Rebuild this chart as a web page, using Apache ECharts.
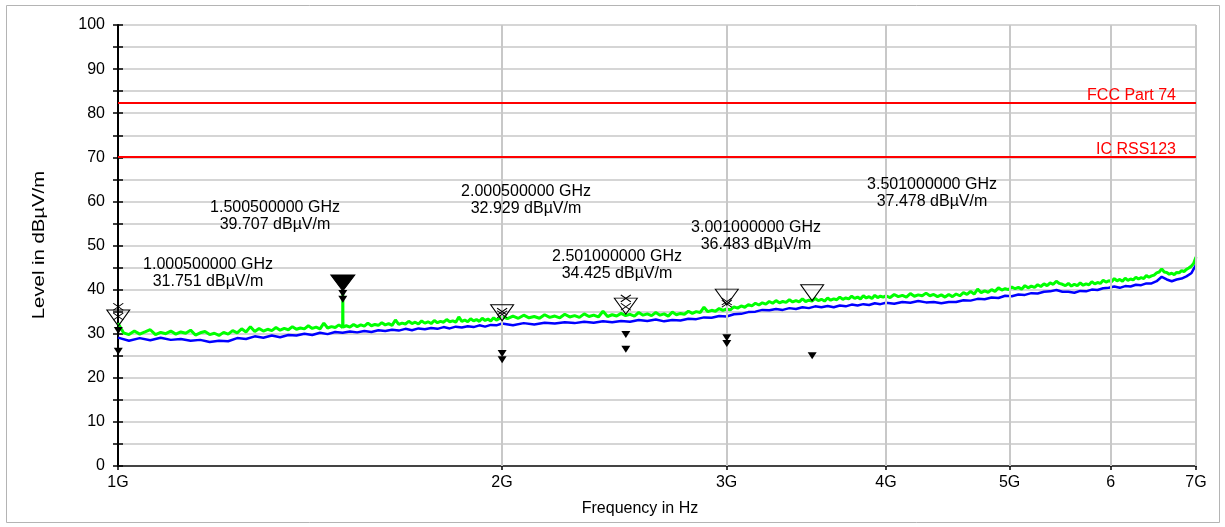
<!DOCTYPE html>
<html>
<head>
<meta charset="utf-8">
<script src="https://cdn.jsdelivr.net/npm/echarts@6/dist/echarts.min.js"></script>
<style>
html,body{margin:0;padding:0;background:#fff;}
#chart{width:1225px;height:527px;}
</style>
</head>
<body>
<div id="chart"></div>
<script>
// ---- data (frequency in GHz, level in dBµV/m) ----
// Peak trace (green)
const peakFreqsGHz = [
1.00,1.01,1.02,1.03,1.04,1.05,1.06,1.07,1.08,1.09,
1.10,1.11,1.12,1.13,1.14,1.15,1.16,1.17,1.18,1.19,
1.20,1.21,1.22,1.23,1.24,1.25,1.26,1.27,1.28,1.29,
1.30,1.31,1.32,1.33,1.34,1.35,1.36,1.37,1.38,1.39,
1.40,1.41,1.42,1.43,1.44,1.45,1.46,1.47,1.48,1.49,
1.50,1.5005,1.501,
1.51,1.52,1.53,1.54,1.55,1.56,1.57,1.58,1.59,
1.60,1.61,1.62,1.63,1.64,1.65,1.66,1.67,1.68,1.69,
1.70,1.71,1.72,1.73,1.74,1.75,1.76,1.77,1.78,1.79,
1.80,1.81,1.82,1.83,1.84,1.85,1.86,1.87,1.88,1.89,
1.90,1.91,1.92,1.93,1.94,1.95,1.96,1.97,1.98,1.99,
2.00,2.02,2.04,2.06,2.08,2.10,2.12,2.14,2.16,2.18,
2.20,2.22,2.24,2.26,2.28,2.30,2.32,2.34,2.36,2.38,
2.40,2.42,2.44,2.46,2.48,2.50,2.52,2.54,2.56,2.58,
2.60,2.62,2.64,2.66,2.68,2.70,2.72,2.74,2.76,2.78,
2.80,2.82,2.84,2.86,2.88,2.90,2.92,2.94,2.96,2.98,
3.00,3.02,3.04,3.06,3.08,3.10,3.12,3.14,3.16,3.18,
3.20,3.22,3.24,3.26,3.28,3.30,3.32,3.34,3.36,3.38,
3.40,3.42,3.44,3.46,3.48,3.50,3.52,3.54,3.56,3.58,
3.60,3.62,3.64,3.66,3.68,3.70,3.72,3.74,3.76,3.78,
3.80,3.82,3.84,3.86,3.88,3.90,3.92,3.94,3.96,3.98,
4.00,4.03,4.06,4.09,4.12,4.15,4.18,4.21,4.24,4.27,
4.30,4.33,4.36,4.39,4.42,4.45,4.48,4.51,4.54,4.57,
4.60,4.63,4.66,4.69,4.72,4.75,4.78,4.81,4.84,4.87,
4.90,4.93,4.96,4.99,5.02,5.05,5.08,5.11,5.14,5.17,
5.20,5.23,5.26,5.29,5.32,5.35,5.38,5.41,5.44,5.47,
5.50,5.53,5.56,5.59,5.62,5.65,5.68,5.71,5.74,5.77,
5.80,5.83,5.86,5.89,5.92,5.95,5.98,6.01,6.04,6.07,
6.10,6.13,6.16,6.19,6.22,6.25,6.28,6.31,6.34,6.37,
6.40,6.43,6.46,6.49,6.52,6.55,6.58,6.61,6.64,6.67,
6.70,6.73,6.76,6.79,6.82,6.85,6.88,6.91,6.94,6.97,
7.00
];
const peakLevel = [
32.4,30.2,29.8,30.6,29.9,30.4,30.9,29.8,30.3,30.0,
30.6,29.9,30.4,30.1,30.8,29.7,30.2,30.5,29.8,30.1,
29.6,30.3,29.9,30.7,30.2,31.1,30.4,31.6,30.5,31.2,
30.6,31.0,30.7,31.4,30.8,31.2,30.9,31.6,31.0,31.3,
31.1,31.8,31.2,31.5,31.1,32.4,31.3,31.6,31.4,32.0,
31.4,39.7,31.5,
31.8,31.5,32.1,31.6,32.0,31.7,32.4,31.8,32.1,
31.9,32.5,32.0,32.3,31.9,33.1,32.1,32.4,32.2,32.8,
32.3,32.6,32.2,32.9,32.4,32.7,32.3,33.0,32.5,32.8,
32.6,33.2,32.7,32.9,32.6,33.8,32.8,33.1,32.7,33.4,
32.9,33.2,32.8,33.5,33.0,33.3,32.9,33.6,33.1,33.4,
33.9,33.4,34.0,33.5,34.2,33.6,33.9,33.5,34.3,33.7,
34.0,33.6,34.4,33.8,34.1,33.7,34.5,33.9,34.2,33.8,
35.1,33.9,34.3,34.0,34.6,34.1,34.4,34.0,34.8,34.2,
34.5,34.1,34.8,34.2,34.5,34.0,34.9,34.3,34.6,34.4,
35.1,34.6,35.0,34.8,36.0,35.0,35.3,35.1,35.7,35.3,
35.6,35.4,36.1,35.8,36.3,36.0,36.6,36.3,36.9,36.5,
37.0,36.7,37.3,36.9,37.5,37.0,37.3,37.1,37.7,37.2,
37.5,37.2,37.9,37.3,37.6,37.4,38.0,37.5,37.8,37.4,
38.1,37.6,37.9,37.7,38.3,37.8,38.1,37.9,38.5,38.0,
38.3,37.9,38.6,38.1,38.4,38.0,38.7,38.2,38.5,38.3,
38.6,38.2,38.9,38.4,38.7,38.3,39.1,38.5,38.8,38.6,
39.2,38.6,38.9,38.4,38.8,38.3,38.9,38.4,39.0,38.6,
39.3,38.9,39.6,39.0,40.1,39.3,39.7,39.4,40.0,39.6,
40.4,39.9,40.2,40.0,40.6,40.2,40.5,40.1,40.9,40.4,
40.8,40.5,41.1,40.7,41.3,40.9,41.5,41.2,41.9,41.4,
41.2,40.9,41.4,40.8,41.2,40.9,41.5,41.0,41.3,41.1,
41.8,41.3,41.6,41.4,42.1,41.7,42.0,41.8,42.5,42.0,
42.3,41.9,42.6,42.1,42.4,42.2,42.8,42.4,42.7,42.5,
43.2,42.8,43.1,43.3,43.8,44.0,44.7,44.0,43.9,43.5,
43.7,43.4,43.9,43.8,44.3,44.1,44.6,44.9,45.3,45.9,
47.4
];
// Average trace (blue)
const avgFreqsGHz = [
1.00,1.02,1.04,1.06,1.08,1.10,1.12,1.14,1.16,1.18,1.20,1.22,1.24,1.26,1.28,1.30,1.32,1.34,1.36,1.38,1.40,1.42,1.44,1.46,1.48,1.50,
1.52,1.54,1.56,1.58,1.60,1.62,1.64,1.66,1.68,1.70,1.72,1.74,1.76,1.78,1.80,1.82,1.84,1.86,1.88,1.90,1.92,1.94,1.96,1.98,
2.00,2.04,2.08,2.12,2.16,2.20,2.24,2.28,2.32,2.36,2.40,2.44,2.48,2.52,2.56,2.60,2.64,2.68,2.72,2.76,2.80,2.84,2.88,2.92,2.96,
3.00,3.04,3.08,3.12,3.16,3.20,3.24,3.28,3.32,3.36,3.40,3.44,3.48,3.52,3.56,3.60,3.64,3.68,3.72,3.76,3.80,3.84,3.88,3.92,3.96,
4.00,4.06,4.12,4.18,4.24,4.30,4.36,4.42,4.48,4.54,4.60,4.66,4.72,4.78,4.84,4.90,4.96,5.02,5.08,5.14,5.20,5.26,5.32,5.38,5.44,
5.50,5.56,5.62,5.68,5.74,5.80,5.86,5.92,5.98,6.04,6.10,6.16,6.22,6.28,6.34,6.40,6.46,6.52,6.58,6.64,6.70,6.76,6.82,6.88,6.94,7.00
];
const avgLevel = [
29.1,28.4,29.0,28.5,29.1,28.6,28.8,28.4,28.6,28.1,28.4,28.3,29.0,28.8,29.4,29.1,29.6,29.2,29.7,29.6,30.0,29.7,30.2,29.9,30.4,30.2,
30.5,30.3,30.6,30.4,30.8,30.6,30.9,30.7,31.1,30.8,31.2,31.0,31.3,31.1,31.5,31.2,31.6,31.4,31.7,31.5,31.9,31.6,32.0,31.9,
32.3,31.9,32.4,32.1,32.5,32.3,32.6,32.4,32.7,32.5,32.8,32.6,32.9,32.7,33.1,32.9,33.2,32.8,33.1,33.0,33.4,33.3,33.7,33.6,34.0,
33.9,34.4,34.5,34.9,35.0,35.4,35.3,35.6,35.4,35.8,35.6,36.0,35.8,36.2,36.0,36.3,36.0,36.4,36.2,36.6,36.4,36.7,36.5,36.9,36.7,
37.0,36.8,37.2,37.0,37.4,37.1,37.2,36.9,37.2,37.2,37.6,37.5,37.9,37.8,38.2,38.1,38.6,38.5,38.9,38.8,39.2,39.1,39.5,39.6,39.9,
39.5,39.5,39.3,39.7,39.6,40.0,39.9,40.3,40.4,40.7,40.4,40.8,40.7,41.1,41.0,41.4,41.4,41.9,42.9,42.3,41.9,42.3,42.5,43.0,43.7,45.6
];
// marker list (peak markers)
const markerFreq  = [1.0005, 1.5005, 2.0005, 2.501, 3.001, 3.501];
const markerLevel = [31.751, 39.707, 32.929, 34.425, 36.483, 37.478];
const markerFilled = [false, true, false, false, false, false];
// final measurement results (small filled triangles)
const finalFreq  = [1.0005, 1.0005, 1.5005, 1.5005, 2.0005, 2.0005, 2.501, 2.501, 3.001, 3.001, 3.501];
const finalLevel = [30.7, 26.0, 39.1, 37.8, 25.5, 24.1, 29.8, 26.5, 29.1, 27.8, 25.0];
// cross markers
const crossFreq  = [1.0005, 1.0005, 2.0005, 2.0005, 2.501, 2.501, 3.001, 3.001];
const crossLevel = [36.1, 33.9, 35.0, 34.4, 38.0, 36.1, 37.3, 36.8];
// limit lines
const limitNames  = ['FCC Part 74', 'IC RSS123'];
const limitLevels = [82.3, 70.1];
// axes
const xTickValues = [1, 2, 3, 4, 5, 6, 7];
const xTickLabels = ['1G', '2G', '3G', '4G', '5G', '6', '7G'];
const xGridValues = [2, 3, 4, 5, 6, 7];
const yAxisTitle = 'Level in dBµV/m';
const xAxisTitle = 'Frequency in Hz';

// ---- layout (pixel positions for the annotation boxes) ----
const annotPos = [[208, 273], [275, 216], [526, 200], [617, 265], [756, 236], [932, 193]];

const FONT = 'Liberation Sans, Arial, sans-serif';
const FS = 16;
const pts = (xs, ys) => xs.map((x, i) => [x, ys[i]]);
const triPath = 'path://M0,0 L20,0 L10,15 Z';
const crossPath = 'path://M0,0 L10,8 M10,0 L0,8';

const chart = echarts.init(document.getElementById('chart'), null, {renderer: 'canvas'});

const xBase = {
  type: 'log', logBase: 10, min: 1, max: 7, gridIndex: 0
};

const option = {
  animation: false,
  backgroundColor: '#fff',
  grid: {left: 118, right: 29, top: 25, bottom: 61, containLabel: false, outerBoundsMode: 'none'},
  xAxis: [
    Object.assign({}, xBase, {
      position: 'bottom',
      name: xAxisTitle,
      nameLocation: 'middle',
      nameGap: 35,
      nameTextStyle: {fontFamily: FONT, fontSize: FS, color: '#000', padding: [0, 34, 0, 0]},
      axisLine: {show: true, lineStyle: {color: '#444', width: 2}},
      axisTick: {show: true, length: 4, customValues: xTickValues, lineStyle: {color: '#000', width: 1.5}},
      axisLabel: {
        show: true, customValues: xTickValues, margin: 9,
        fontFamily: FONT, fontSize: FS, color: '#000',
        formatter: v => { const i = xTickValues.findIndex(t => Math.abs(t - v) < 1e-6); return i >= 0 ? xTickLabels[i] : ''; }
      },
      splitLine: {show: false}, minorTick: {show: false}
    }),
    Object.assign({}, xBase, {
      position: 'bottom',
      axisLine: {show: false},
      axisTick: {show: true, inside: true, length: 4, customValues: xTickValues, lineStyle: {color: '#000', width: 1.5}},
      axisLabel: {show: false},
      splitLine: {show: false}
    })
  ],
  yAxis: [
    {
      type: 'value', min: 0, max: 100, interval: 10,
      axisLine: {show: true, lineStyle: {color: '#000', width: 2}},
      axisTick: {show: true, length: 5, lineStyle: {color: '#000', width: 1.5}},
      minorTick: {show: true, splitNumber: 2, length: 5, lineStyle: {color: '#000', width: 1.5}},
      axisLabel: {margin: 13, fontFamily: FONT, fontSize: FS, color: '#000'},
      splitLine: {show: true, lineStyle: {color: '#c8c8c8', width: 1.5}},
      minorSplitLine: {show: true, lineStyle: {color: '#c8c8c8', width: 1.5}}
    },
    {
      type: 'value', min: 0, max: 100, interval: 10, position: 'left',
      axisLine: {show: false},
      axisTick: {show: true, inside: true, length: 5, lineStyle: {color: '#000', width: 1.5}},
      minorTick: {show: true, splitNumber: 2, length: 5, lineStyle: {color: '#000', width: 1.5}},
      axisLabel: {show: false},
      splitLine: {show: false}
    }
  ],
  series: [
    { // vertical grid lines
      type: 'line', data: [], z: 1, silent: true,
      markLine: {
        silent: true, symbol: 'none', label: {show: false},
        lineStyle: {color: '#c8c8c8', width: 2, type: 'solid'},
        data: xGridValues.map(v => ({xAxis: v}))
      }
    },
    {
      name: 'Peak', type: 'line', data: pts(peakFreqsGHz, peakLevel), showSymbol: false, z: 3,
      lineStyle: {color: '#00ff00', width: 3}, itemStyle: {color: '#00ff00'}
    },
    {
      name: 'Average', type: 'line', data: pts(avgFreqsGHz, avgLevel), showSymbol: false, z: 4,
      lineStyle: {color: '#0000ff', width: 2.5}, itemStyle: {color: '#0000ff'}
    },
    { // limit lines
      type: 'line', data: [], z: 5, silent: true,
      markLine: {
        silent: true, symbol: 'none',
        lineStyle: {color: '#ff0000', width: 2, type: 'solid'},
        label: {show: true, position: 'insideEndTop', distance: [20, -1], color: '#ff0000', fontFamily: FONT, fontSize: FS, formatter: p => p.name},
        data: limitNames.map((n, i) => ({name: n, yAxis: limitLevels[i]}))
      }
    },
    { // open marker triangles
      type: 'scatter', z: 6, silent: true,
      data: pts(markerFreq, markerLevel).filter((d, i) => !markerFilled[i]),
      symbol: triPath, symbolSize: [23, 16], symbolOffset: [0, '-50%'],
      itemStyle: {color: 'rgba(255,255,255,0)', borderColor: '#000', borderWidth: 1, opacity: 1}
    },
    { // filled marker triangle
      type: 'scatter', z: 6, silent: true,
      data: pts(markerFreq, markerLevel).filter((d, i) => markerFilled[i]),
      symbol: triPath, symbolSize: [24, 16], symbolOffset: [0, '-50%'],
      itemStyle: {color: '#000', borderColor: '#000', borderWidth: 1, opacity: 1}
    },
    { // final results
      type: 'scatter', z: 6, silent: true,
      data: pts(finalFreq, finalLevel),
      symbol: triPath, symbolSize: [9, 7],
      itemStyle: {color: '#000', opacity: 1}
    },
    { // crosses
      type: 'scatter', z: 6, silent: true,
      data: pts(crossFreq, crossLevel),
      symbol: crossPath, symbolSize: [10, 7],
      itemStyle: {color: 'rgba(0,0,0,0)', borderColor: '#000', borderWidth: 1, opacity: 1}
    }
  ],
  graphic: [
    {type: 'rect', z: 100, silent: true, shape: {x: 6.5, y: 5.5, width: 1213, height: 517},
     style: {fill: 'none', stroke: '#b4b4b4', lineWidth: 1}},
    {type: 'text', z: 100, silent: true, x: 40, y: 245, rotation: Math.PI / 2, scaleX: 1.27, scaleY: 1,
     style: {text: yAxisTitle, align: 'center', verticalAlign: 'middle', font: FS + 'px ' + FONT, fill: '#000'}}
  ].concat(markerFreq.map((f, i) => ({
    type: 'text', z: 100, silent: true,
    x: annotPos[i][0], y: annotPos[i][1],
    style: {
      text: f.toFixed(9) + ' GHz\n' + markerLevel[i].toFixed(3) + ' dBµV/m',
      align: 'center', verticalAlign: 'middle', lineHeight: 17,
      font: FS + 'px ' + FONT, fill: '#000'
    }
  })))
};
chart.setOption(option);
</script>
</body>
</html>
